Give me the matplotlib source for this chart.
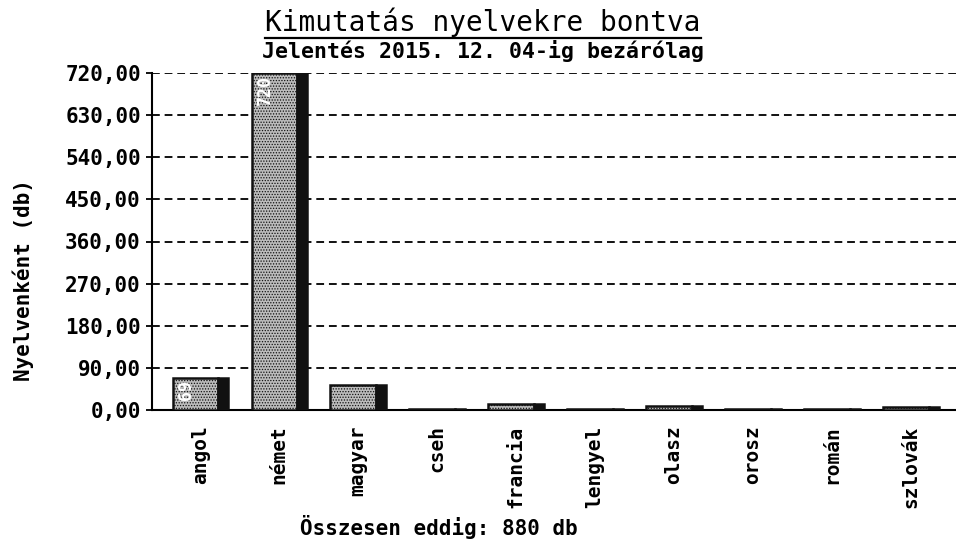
import numpy as np
import matplotlib.pyplot as plt
from matplotlib.lines import Line2D

# adatok
nyelvek = ['angol', 'német', 'magyar', 'cseh', 'francia',
           'lengyel', 'olasz', 'orosz', 'román', 'szlovák']
darab = [69, 720, 53, 3, 12, 3, 9, 2, 3, 6]
yticks = [0, 90, 180, 270, 360, 450, 540, 630, 720]

plt.rcParams['font.family'] = ['DejaVu Sans Mono', 'DejaVu Sans']
plt.rcParams['hatch.color'] = '#6a6a6a'
plt.rcParams['hatch.linewidth'] = 0.6

fig = plt.figure(figsize=(9.56, 5.43), dpi=100)
ax = fig.add_axes([152/956, 1-410/543, (956-152)/956, (410-73)/543])

x = np.arange(len(nyelvek))
w = 0.70
shadow = 0.12

# világos rész + sötét árnyék jobb oldalon
ax.bar(x - shadow/2, darab, width=w - shadow, color='#bcbcbc', hatch='......',
       edgecolor='#111111', linewidth=1.8, zorder=3)
ax.bar(x + (w - shadow)/2, darab, width=shadow, color='#111111',
       edgecolor='#111111', linewidth=1.8, zorder=3)

# értékcímkék a bárok belsejében
for xi, v in zip(x, darab):
    if v > 60:
        ax.text(xi - shadow/2 - 0.12, v - 5, str(v), rotation=90, ha='center', va='top',
                color='white', fontsize=12, fontweight='bold', zorder=4)

ax.set_xlim(-0.61, 9.57)
ax.set_ylim(0, 720)
ax.set_yticks(yticks)
ax.set_yticklabels(['%d,00' % t for t in yticks], fontsize=15, fontweight='bold')
ax.set_xticks(x)
ax.set_xticklabels(nyelvek, rotation=90, fontsize=14, fontweight='bold')
ax.tick_params(axis='x', length=0, pad=11)
ax.tick_params(axis='y', length=4, width=1.3, pad=4)
ax.grid(axis='y', color='#111111', linestyle=(0, (4, 2.5)), linewidth=1.4, zorder=0)
ax.spines['top'].set_visible(False)
ax.spines['right'].set_visible(False)
ax.spines['left'].set_linewidth(1.5)
ax.spines['bottom'].set_linewidth(1.5)
ax.set_ylabel('Nyelvenként (db)', fontsize=15, fontweight='bold')
ax.yaxis.set_label_coords(-0.147, 0.386)

t = fig.text(0.505, 1-22/543, 'Kimutatás nyelvekre bontva', ha='center', va='center',
             fontsize=20)
fig.text(0.505, 1-51/543, 'Jelentés 2015. 12. 04-ig bezárólag', ha='center', va='center',
         fontsize=15.5, fontweight='bold')
fig.text(0.459, 1-527/543, 'Összesen eddig: 880 db', ha='center', va='center',
         fontsize=15, fontweight='bold')

# cím aláhúzása
fig.canvas.draw()
bb = t.get_window_extent().transformed(fig.transFigure.inverted())
fig.add_artist(Line2D([bb.x0, bb.x1], [bb.y0 - 0.002, bb.y0 - 0.002],
                      transform=fig.transFigure, color='black', linewidth=1.6))

fig.savefig('out.png', dpi=100)
